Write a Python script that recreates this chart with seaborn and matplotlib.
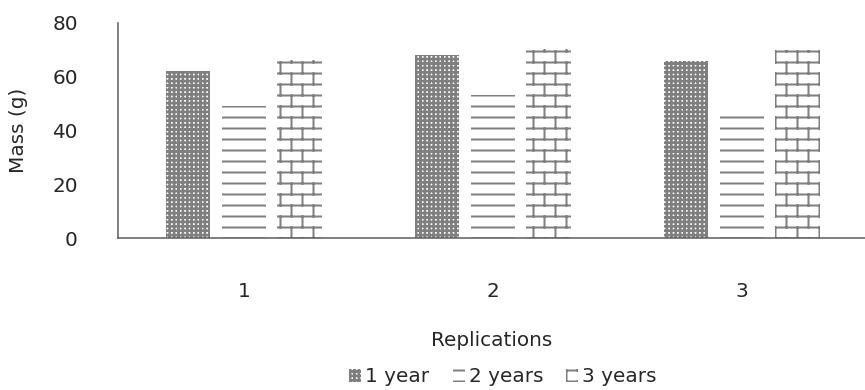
import numpy as np
import pandas as pd
import matplotlib
matplotlib.use("Agg")
import matplotlib.pyplot as plt
from matplotlib.path import Path
import seaborn as sns

# Mass per replication for each age group
replications = ["1", "2", "3"]
ages = ["1 year", "2 years", "3 years"]
mass_1_year = [62.2, 68.0, 66.0]
mass_2_years = [49.2, 53.2, 45.6]
mass_3_years = [66.2, 70.2, 69.8]
y_ticks = [0, 20, 40, 60, 80]

DPI = 66


def px(v):
    """Convert pixels to points at the figure dpi."""
    return v * 72 / DPI


# ---- hatch tiles (unit square, one tile = 72 pt) ----
PHASE = -2.0 / DPI  # vertical offset of the row lattice within a tile


def _segments(segs):
    verts, codes = [], []
    for x0, y0, x1, y1 in segs:
        verts += [(x0, y0), (x1, y1)]
        codes += [Path.MOVETO, Path.LINETO]
    return Path(np.array(verts, float), np.array(codes, Path.code_type))


def grid_tile(n, thicken=0.0):
    segs = []
    for i in range(n):
        for d in (0.0, thicken):
            c = (i + 0.5) / n + d
            segs.append((0, c, 1, c))
            segs.append((c, 0, c, 1))
    return _segments(segs)


def lines_tile(n):
    ys = [(i + 0.5) / n + PHASE for i in range(n)]
    return _segments([(0, y, 1, y) for y in ys])


def brick_tile(rows, cols):
    ys = [(i + 0.5) / rows + PHASE for i in range(rows)]
    segs = [(0, y, 1, y) for y in ys]
    for i, y0 in enumerate(ys):
        y1 = y0 + 1 / rows
        off = 0.25 / cols if i % 2 == 0 else 0.75 / cols
        for j in range(cols):
            x = j / cols + off
            if y1 <= 1:
                segs.append((x, y0, x, y1))
            else:
                segs.append((x, y0, x, 1))
                segs.append((x, 0, x, y1 - 1))
    return _segments(segs)


HATCH_TILES = {
    "+": grid_tile(15, thicken=0.6 / DPI),
    "-": lines_tile(6),
    "|-": brick_tile(6, 3),
}
_stock_hatch = Path.hatch


def _hatch(pattern, density=6):
    if pattern in HATCH_TILES:
        return HATCH_TILES[pattern]
    return _stock_hatch(pattern, density)


Path.hatch = staticmethod(_hatch)
age_hatches = ["+", "-", "|-"]

# ---- figure ----
sns.set_theme(style="white")
plt.rcParams["font.family"] = ["DejaVu Sans"]
plt.rcParams["hatch.linewidth"] = px(2)
text_color = "#262626"
fs = px(20)

df = pd.DataFrame({
    "Replication": replications * 3,
    "Age": np.repeat(ages, len(replications)),
    "Mass": mass_1_year + mass_2_years + mass_3_years,
})

fig = plt.figure(figsize=(865 / DPI, 390 / DPI), dpi=DPI)
ax = fig.add_axes([118 / 865, 1 - 238 / 390, 1 - 118 / 865, (238 - 23) / 390])

sns.barplot(
    data=df, x="Replication", y="Mass", hue="Age",
    order=replications, hue_order=ages,
    palette={a: "white" for a in ages},
    width=0.67, gap=0.2, edgecolor="#7f7f7f", linewidth=0,
    errorbar=None, legend=False, ax=ax,
)

for container, h in zip(ax.containers, age_hatches):
    for bar in container:
        bar.set_hatch(h)

ax.set_xlim(-0.505, 2.495)
ax.set_ylim(0, 80)
ax.set_yticks(y_ticks)
ax.tick_params(axis="x", length=0, pad=px(44), labelsize=fs, labelcolor=text_color)
ax.tick_params(axis="y", length=0, pad=px(40), labelsize=fs, labelcolor=text_color)

for side in ("top", "right"):
    ax.spines[side].set_visible(False)
for side in ("left", "bottom"):
    ax.spines[side].set_color("#595959")
    ax.spines[side].set_linewidth(px(1.5))

ax.set_xlabel("Replications", fontsize=fs, color=text_color, labelpad=px(30))
ax.set_ylabel("Mass (g)", fontsize=fs, color=text_color)
ax.yaxis.set_label_coords(-0.12, 0.5)

handles = [c.patches[0] for c in ax.containers]
fig.legend(
    handles, ages, loc="center", bbox_to_anchor=(503 / 865, 1 - 377 / 390),
    ncol=3, frameon=False, fontsize=fs, labelcolor=text_color,
    handlelength=0.6, handleheight=0.6, handletextpad=0.2,
    columnspacing=1.15, borderpad=0, borderaxespad=0,
)

fig.savefig("out.png", dpi=DPI)
